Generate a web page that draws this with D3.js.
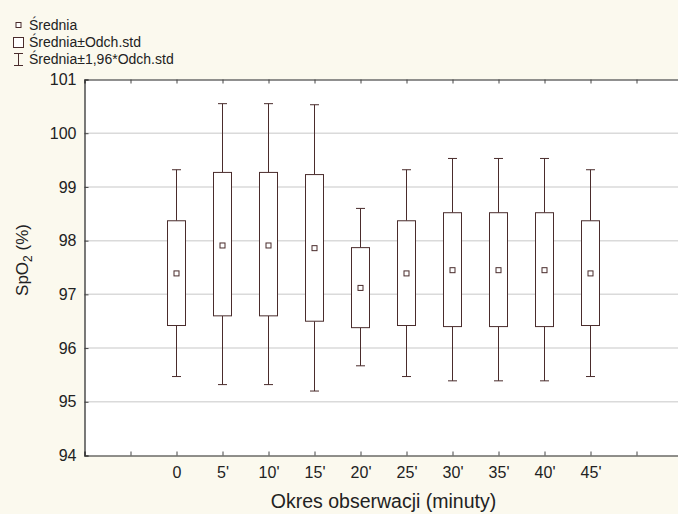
<!DOCTYPE html>
<html>
<head>
<meta charset="utf-8">
<script src="https://cdn.jsdelivr.net/npm/d3@7"></script>
<style>
  body { margin: 0; background: #fbf9ee; }
  svg { display: block; font-family: "Liberation Sans", Arial, sans-serif; }
</style>
</head>
<body>
<svg id="chart"></svg>
<script>
// time points (x categories)
const labels = ["0", "5'", "10'", "15'", "20'", "25'", "30'", "35'", "40'", "45'"];
// mean SpO2
const means = [97.39, 97.91, 97.91, 97.86, 97.12, 97.39, 97.45, 97.45, 97.45, 97.39];
// mean - sd / mean + sd
const boxLow = [96.42, 96.60, 96.60, 96.50, 96.38, 96.42, 96.40, 96.40, 96.40, 96.42];
const boxHigh = [98.37, 99.27, 99.27, 99.23, 97.87, 98.37, 98.52, 98.52, 98.52, 98.37];
// mean -/+ 1.96 * sd
const whiskLow = [95.47, 95.32, 95.32, 95.20, 95.67, 95.47, 95.39, 95.39, 95.39, 95.47];
const whiskHigh = [99.32, 100.55, 100.55, 100.53, 98.60, 99.32, 99.53, 99.53, 99.53, 99.32];
const yTicks = [94, 95, 96, 97, 98, 99, 100, 101];

const width = 678, height = 514;
const margin = { top: 79.5, right: -4.5, bottom: 58.5, left: 84.5 };
const ink = '#4a2c2c';

const svg = d3.select('#chart')
  .attr('width', width)
  .attr('height', height);

const x = d3.scaleLinear()
  .domain([-2, labels.length + 1])
  .range([margin.left, width - margin.right]);

const y = d3.scaleLinear()
  .domain([94, 101])
  .range([height - margin.bottom, margin.top]);

// plot background
svg.append('rect')
  .attr('x', x(-2)).attr('y', y(101))
  .attr('width', x(labels.length + 1) - x(-2))
  .attr('height', y(94) - y(101))
  .attr('fill', '#fff');

// grid lines
svg.append('g')
  .selectAll('line')
  .data(yTicks.filter(d => d > 94 && d < 101))
  .enter().append('line')
  .attr('x1', x(-2)).attr('x2', x(labels.length + 1))
  .attr('y1', d => y(d)).attr('y2', d => y(d))
  .attr('stroke', '#dadada')
  .attr('stroke-width', 1.5);

// x axis (bottom) with inward ticks
const tickIdx = d3.range(-1, labels.length + 1);
const xAxis = d3.axisBottom(x)
  .tickValues(tickIdx)
  .tickSize(-4)
  .tickPadding(11)
  .tickFormat(i => labels[i] || '');
const gx = svg.append('g')
  .attr('transform', `translate(0, ${y(94)})`)
  .call(xAxis);
gx.select('.domain').attr('stroke', '#222').attr('stroke-width', 1.2);
gx.selectAll('.tick line').attr('stroke', '#444');
gx.selectAll('.tick text').attr('font-size', 16).attr('fill', '#222');

// top border with inward ticks
const gTop = svg.append('g')
  .attr('transform', `translate(0, ${y(101)})`)
  .call(d3.axisTop(x).tickValues(tickIdx).tickSize(-4).tickFormat(''));
gTop.select('.domain').attr('stroke', '#222').attr('stroke-width', 1.2);
gTop.selectAll('.tick line').attr('stroke', '#444');

// y axis with inward ticks
const gy = svg.append('g')
  .attr('transform', `translate(${x(-2)}, 0)`)
  .call(d3.axisLeft(y).tickValues(yTicks).tickSize(-4).tickPadding(8).tickFormat(d3.format('d')));
gy.select('.domain').attr('stroke', '#222').attr('stroke-width', 1.2);
gy.selectAll('.tick line').attr('stroke', '#444');
gy.selectAll('.tick text').attr('font-size', 16).attr('fill', '#222');

// axis titles
svg.append('text')
  .attr('x', (x(-2) + x(labels.length + 1)) / 2)
  .attr('y', 508)
  .attr('text-anchor', 'middle')
  .attr('font-size', 19.5)
  .attr('fill', '#222')
  .text('Okres obserwacji (minuty)');

const yTitle = svg.append('text')
  .attr('transform', `translate(28, 260) rotate(-90)`)
  .attr('text-anchor', 'middle')
  .attr('font-size', 17)
  .attr('fill', '#222');
yTitle.append('tspan').text('SpO');
yTitle.append('tspan').attr('font-size', 12).attr('dy', 4).text('2');
yTitle.append('tspan').attr('dy', -4).text(' (%)');

// boxes
const boxW = 18, capW = 9, markS = 5;
const groups = svg.append('g')
  .selectAll('g')
  .data(labels.map((d, i) => i))
  .enter().append('g');

groups.append('line')
  .attr('x1', i => x(i)).attr('x2', i => x(i))
  .attr('y1', i => y(whiskHigh[i])).attr('y2', i => y(boxHigh[i]))
  .attr('stroke', ink);
groups.append('line')
  .attr('x1', i => x(i)).attr('x2', i => x(i))
  .attr('y1', i => y(boxLow[i])).attr('y2', i => y(whiskLow[i]))
  .attr('stroke', ink);
groups.append('line')
  .attr('x1', i => x(i) - capW / 2).attr('x2', i => x(i) + capW / 2)
  .attr('y1', i => y(whiskHigh[i])).attr('y2', i => y(whiskHigh[i]))
  .attr('stroke', ink);
groups.append('line')
  .attr('x1', i => x(i) - capW / 2).attr('x2', i => x(i) + capW / 2)
  .attr('y1', i => y(whiskLow[i])).attr('y2', i => y(whiskLow[i]))
  .attr('stroke', ink);
groups.append('rect')
  .attr('x', i => x(i) - boxW / 2)
  .attr('y', i => y(boxHigh[i]))
  .attr('width', boxW)
  .attr('height', i => y(boxLow[i]) - y(boxHigh[i]))
  .attr('fill', '#fff')
  .attr('stroke', ink);
groups.append('rect')
  .attr('x', i => x(i) - markS / 2)
  .attr('y', i => y(means[i]) - markS / 2)
  .attr('width', markS).attr('height', markS)
  .attr('fill', '#fff')
  .attr('stroke', ink);

// legend
const legend = svg.append('g').attr('font-size', 14).attr('fill', '#222');
legend.append('rect').attr('x', 16).attr('y', 22.5).attr('width', 5).attr('height', 5)
  .attr('fill', '#fff').attr('stroke', ink);
legend.append('text').attr('x', 29).attr('y', 30).text('Średnia');
legend.append('rect').attr('x', 13.5).attr('y', 37.5).attr('width', 10).attr('height', 10)
  .attr('fill', '#fff').attr('stroke', ink);
legend.append('text').attr('x', 29).attr('y', 47).text('Średnia±Odch.std');
legend.append('path').attr('d', 'M14,53.5H23M18.5,53.5V65.5M14,65.5H23')
  .attr('fill', 'none').attr('stroke', ink);
legend.append('text').attr('x', 29).attr('y', 64).text('Średnia±1,96*Odch.std');
</script>
</body>
</html>
